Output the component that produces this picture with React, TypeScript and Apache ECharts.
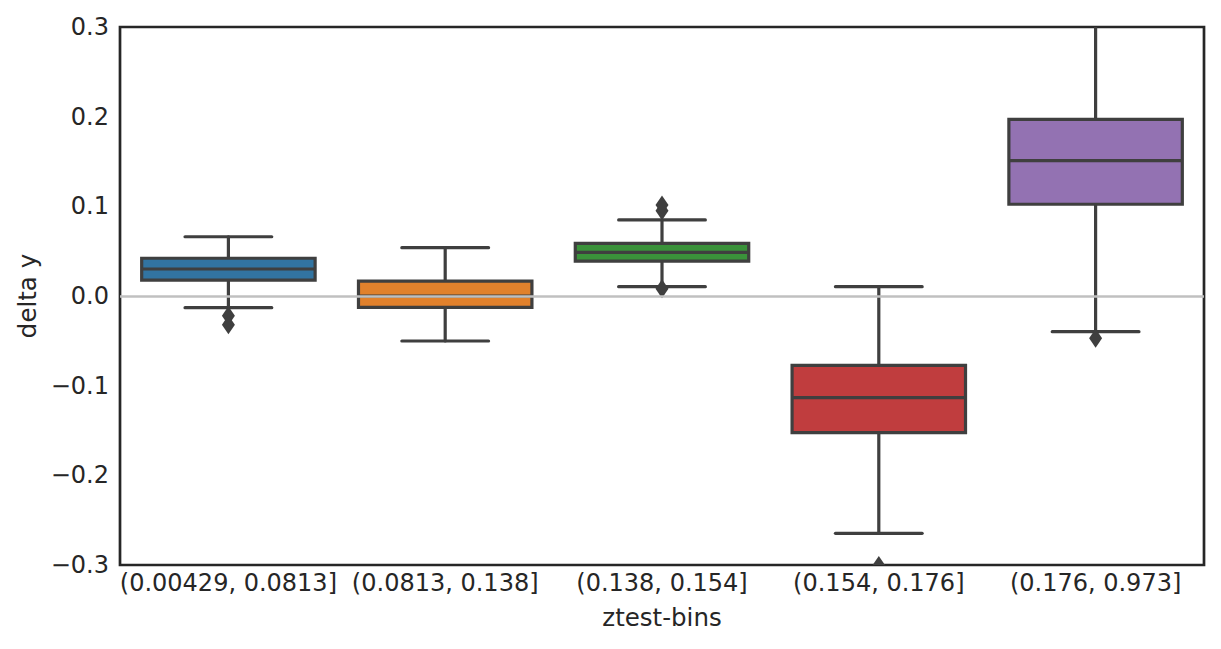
import React, { useEffect, useRef } from "react";
import * as echarts from "echarts";

const categories = [
  "(0.00429, 0.0813]",
  "(0.0813, 0.138]",
  "(0.138, 0.154]",
  "(0.154, 0.176]",
  "(0.176, 0.973]",
];
const whiskerLow = [-0.013, -0.0502, 0.0104, -0.2647, -0.0398];
const q1 = [0.0178, -0.0126, 0.039, -0.1524, 0.1023];
const median = [0.0301, 0.0, 0.0487, -0.1134, 0.151];
const q3 = [0.0421, 0.0167, 0.0587, -0.0773, 0.197];
const whiskerHigh = [0.0661, 0.0539, 0.0848, 0.0104, 0.34];
const outlierCat = [0, 0, 2, 2, 2, 3, 4];
const outlierVal = [-0.022, -0.032, 0.095, 0.1015, 0.008, -0.3005, -0.047];
const yTicks = { min: -0.3, max: 0.3, interval: 0.1 };

const palette = ["#3274a1", "#e1812c", "#3a923a", "#c03d3e", "#9372b2"];
const edge = "#3f3f3f";
const textColor = "#262626";
const font = "DejaVu Sans";

export default function App() {
  const ref = useRef<HTMLDivElement>(null);
  useEffect(() => {
    if (!ref.current) return;
    const chart = echarts.init(ref.current, undefined, { renderer: "svg" });
    const boxData = categories.map((_, i) => [
      i,
      whiskerLow[i],
      q1[i],
      median[i],
      q3[i],
      whiskerHigh[i],
    ]);
    const lw = 3.2;
    const option: any = {
      animation: false,
      backgroundColor: "#ffffff",
      textStyle: { fontFamily: font },
      grid: {
        left: 120,
        right: 17,
        top: 27,
        bottom: 84,
        show: true,
        borderColor: textColor,
        borderWidth: 2.7,
        backgroundColor: "transparent",
      },
      xAxis: {
        type: "category",
        data: categories,
        boundaryGap: true,
        axisLine: { show: false },
        axisTick: { show: false },
        splitLine: { show: false },
        axisLabel: {
          fontSize: 24,
          color: textColor,
          fontFamily: font,
          margin: 6,
          interval: 0,
        },
        name: "ztest-bins",
        nameLocation: "middle",
        nameGap: 40,
        nameTextStyle: { fontSize: 24.5, color: textColor, fontFamily: font },
      },
      yAxis: {
        type: "value",
        min: yTicks.min,
        max: yTicks.max,
        interval: yTicks.interval,
        axisLine: { show: false },
        axisTick: { show: false },
        splitLine: { show: false },
        axisLabel: {
          fontSize: 24,
          color: textColor,
          fontFamily: font,
          margin: 11,
          formatter: (v: number) => {
            const s = Math.abs(v) < 1e-9 ? "0.0" : v.toFixed(1);
            return s.replace("-", "\u2212");
          },
        },
        name: "delta y",
        nameLocation: "middle",
        nameRotate: 90,
        nameGap: 79,
        nameTextStyle: { fontSize: 24.5, color: textColor, fontFamily: font },
      },
      series: [
        {
          type: "line",
          data: [],
          z: 1,
          silent: true,
          markLine: {
            silent: true,
            symbol: "none",
            label: { show: false },
            lineStyle: { color: "#c0c0c0", width: 2.5, type: "solid" },
            data: [{ yAxis: 0 }],
          },
        },
        {
          type: "custom",
          z: 3,
          clip: true,
          data: boxData,
          encode: { x: 0, y: [1, 2, 3, 4, 5] },
          renderItem: (params: any, api: any) => {
            const i = api.value(0);
            const xc = api.coord([i, 0])[0];
            const bw = api.size([1, 0])[0];
            const half = bw * 0.4;
            const capHalf = bw * 0.2;
            const yLow = api.coord([i, api.value(1)])[1];
            const yQ1 = api.coord([i, api.value(2)])[1];
            const yMed = api.coord([i, api.value(3)])[1];
            const yQ3 = api.coord([i, api.value(4)])[1];
            const yHigh = api.coord([i, api.value(5)])[1];
            const ls = { stroke: edge, lineWidth: lw, lineCap: "round" };
            return {
              type: "group",
              children: [
                { type: "line", shape: { x1: xc, y1: yQ3, x2: xc, y2: yHigh }, style: ls },
                { type: "line", shape: { x1: xc, y1: yQ1, x2: xc, y2: yLow }, style: ls },
                { type: "line", shape: { x1: xc - capHalf, y1: yHigh, x2: xc + capHalf, y2: yHigh }, style: ls },
                { type: "line", shape: { x1: xc - capHalf, y1: yLow, x2: xc + capHalf, y2: yLow }, style: ls },
                {
                  type: "rect",
                  shape: { x: xc - half, y: yQ3, width: half * 2, height: yQ1 - yQ3 },
                  style: { fill: palette[i], stroke: edge, lineWidth: lw },
                },
                {
                  type: "line",
                  shape: { x1: xc - half, y1: yMed, x2: xc + half, y2: yMed },
                  style: { stroke: edge, lineWidth: lw },
                },
              ],
            };
          },
        },
        {
          type: "custom",
          z: 4,
          clip: true,
          data: outlierCat.map((c, k) => [c, outlierVal[k]]),
          encode: { x: 0, y: 1 },
          renderItem: (params: any, api: any) => {
            const p = api.coord([api.value(0), api.value(1)]);
            const w = 6.5;
            const h = 9.5;
            return {
              type: "polygon",
              shape: {
                points: [
                  [p[0], p[1] - h],
                  [p[0] + w, p[1]],
                  [p[0], p[1] + h],
                  [p[0] - w, p[1]],
                ],
              },
              style: { fill: edge },
            };
          },
        },
      ],
    };
    chart.setOption(option);
    return () => chart.dispose();
  }, []);
  return (
    <div
      ref={ref}
      style={{ position: "absolute", left: 0, top: 0, width: 1221, height: 649 }}
    />
  );
}
